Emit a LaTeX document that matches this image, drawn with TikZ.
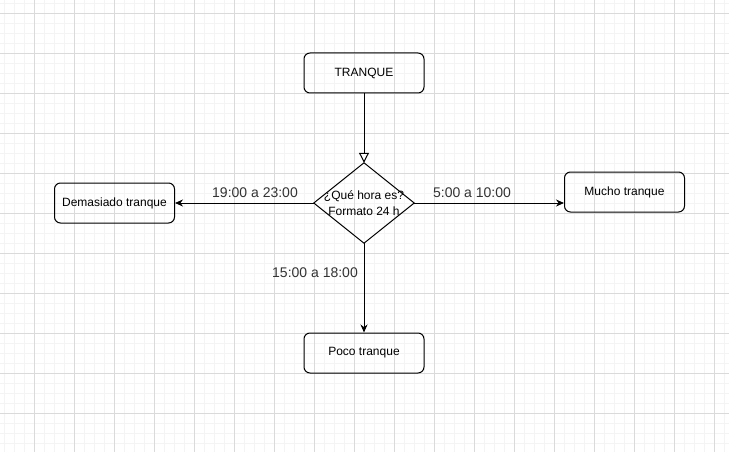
\documentclass[tikz,border=0pt]{standalone}
\usepackage{fontspec}
\setmainfont{Liberation Sans}
\usetikzlibrary{arrows.meta}
\definecolor{minorgrid}{HTML}{F4F4F4}
\definecolor{majorgrid}{HTML}{DADADA}
\definecolor{labelgray}{HTML}{333333}
\begin{document}
\begin{tikzpicture}[x=1pt,y=-1pt,
  box/.style={draw,line width=1pt,rounded corners=6pt,minimum width=120pt,minimum height=40pt,inner sep=0pt,font=\fontsize{12}{14}\selectfont},
  qarea/.style={minimum width=100pt,minimum height=80pt,inner sep=0pt,align=center,font=\fontsize{12}{16}\selectfont},
  edgelabel/.style={text=labelgray,inner sep=1pt,font=\fontsize{14}{16}\selectfont},
  arr/.style={line width=1pt,-{Stealth[length=8pt,width=7pt]}},
  openarr/.style={line width=1pt,-{Triangle[open,length=10pt,width=10pt,fill=white]}}]
\fill[white] (0,0) rectangle (729,452);
\useasboundingbox (0,0) rectangle (729,452);
\foreach \x in {4,14,...,724} \draw[minorgrid,line width=0.7pt] (\x,0) -- (\x,452);
\foreach \y in {3,13,...,452} \draw[minorgrid,line width=0.7pt] (0,\y) -- (729,\y);
\foreach \x in {34,74,...,724} \draw[majorgrid,line width=0.8pt] (\x,0) -- (\x,452);
\foreach \y in {13,53,...,452} \draw[majorgrid,line width=0.8pt] (0,\y) -- (729,\y);

\node[box] (t) at (364,73) {TRANQUE};
\node[qarea] (q) at (364,203) {¿Qué hora es?\\Formato 24 h};
\draw[line width=1pt] (q.north) -- (q.east) -- (q.south) -- (q.west) -- cycle;
\node[box] (d) at (114.5,203) {Demasiado tranque};
\node[box] (m) at (624.5,192) {Mucho tranque};
\node[box] (p) at (364,353) {Poco tranque};

\draw[openarr] (t.south) -- (q.north);
\draw[arr] (q.west) -- (d.east);
\draw[arr] (q.east) -- (q.east -| m.west);
\draw[arr] (q.south) -- (p.north);

\node[edgelabel] (l1) at (255,193) {19:00 a 23:00};
\node[edgelabel] (l2) at (472,193) {5:00 a 10:00};
\node[edgelabel] (l3) at (315,273) {15:00 a 18:00};
\end{tikzpicture}
\end{document}
